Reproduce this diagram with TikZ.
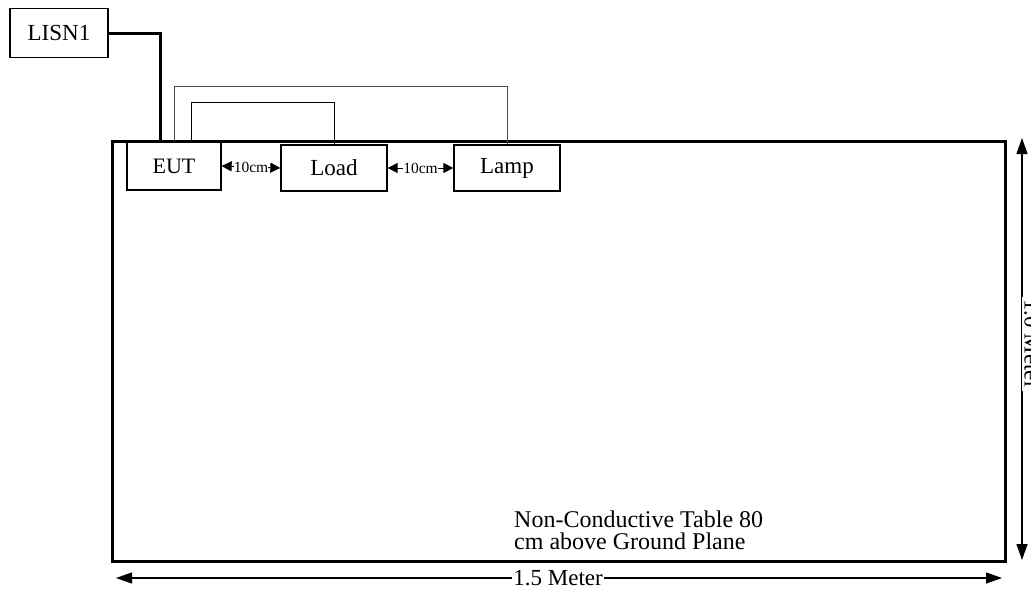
\documentclass[tikz,border=0pt]{standalone}
\usepackage{fontspec}
\setmainfont{Liberation Serif}
\usetikzlibrary{arrows.meta,calc}
\begin{document}
\begin{tikzpicture}[x=1pt,y=-1pt,
  box/.style={draw,line width=1.3pt,inner sep=0pt},
  wire/.style={line width=1pt},
  thick wire/.style={line width=3pt},
  dimsmall/.style={{Triangle[length=10pt,width=10pt]}-{Triangle[length=10pt,width=10pt]},line width=1pt},
  dimbig/.style={{Triangle[length=16pt,width=11pt]}-{Triangle[length=16pt,width=11pt]},line width=1.2pt},
  lbl/.style={fill=white,inner sep=1pt}
]
\useasboundingbox (0,0) rectangle (1031,595);
% table
\draw[line width=3pt] (112,141) rectangle (1005,561);
% boxes
\node[box,minimum width=98pt,minimum height=49pt,font=\fontsize{23}{23}\selectfont] (lisn) at (59,33) {LISN1};
\node[box,minimum width=94pt,minimum height=48pt,font=\fontsize{22}{22}\selectfont] (eut) at (174,166) {EUT};
\node[box,minimum width=106pt,minimum height=46pt,font=\fontsize{23}{23}\selectfont] (load) at (334,168) {Load};
\node[box,minimum width=106pt,minimum height=46pt,font=\fontsize{23}{23}\selectfont] (lamp) at (507,168) {Lamp};
% wires
\draw[wire,draw=black!70] (eut.north) -- ++(0,-55) -| (lamp.north);
\draw[wire] ([xshift=17pt]eut.north) -- ++(0,-39) -| (load.north);
\draw[thick wire] (lisn.east) -| ([xshift=-14pt]eut.north);
% 10cm dims
\draw[dimsmall] (eut.east) -- (load.west) node[midway,lbl,inner sep=0pt,font=\fontsize{15.5}{15}\selectfont] (d1) {10cm};
\draw[dimsmall] (load.east) -- (lamp.west) node[midway,lbl,inner sep=0pt,font=\fontsize{15.5}{15}\selectfont] (d2) {10cm};
% table label
\node[anchor=north west,inner sep=0pt,align=left,font=\fontsize{24}{22}\selectfont] (tlabel) at (514,511) {Non-Conductive Table 80\\cm above Ground Plane};
% big dims
\coordinate (hl) at (116,578);
\coordinate (hr) at (1002,578);
\draw[dimbig] (hl) -- (hr) node[pos=0.499,lbl,font=\fontsize{23}{23}\selectfont] (hlabel) {1.5 Meter};
\coordinate (vt) at (1022,138);
\coordinate (vb) at (1022,560);
\draw[dimbig] (vt) -- (vb);
\node[lbl,inner sep=2pt,rotate=-90,font=\fontsize{23}{23}\selectfont] (vlabel) at (1032,344) {1.0 Meter};
\end{tikzpicture}
\end{document}
